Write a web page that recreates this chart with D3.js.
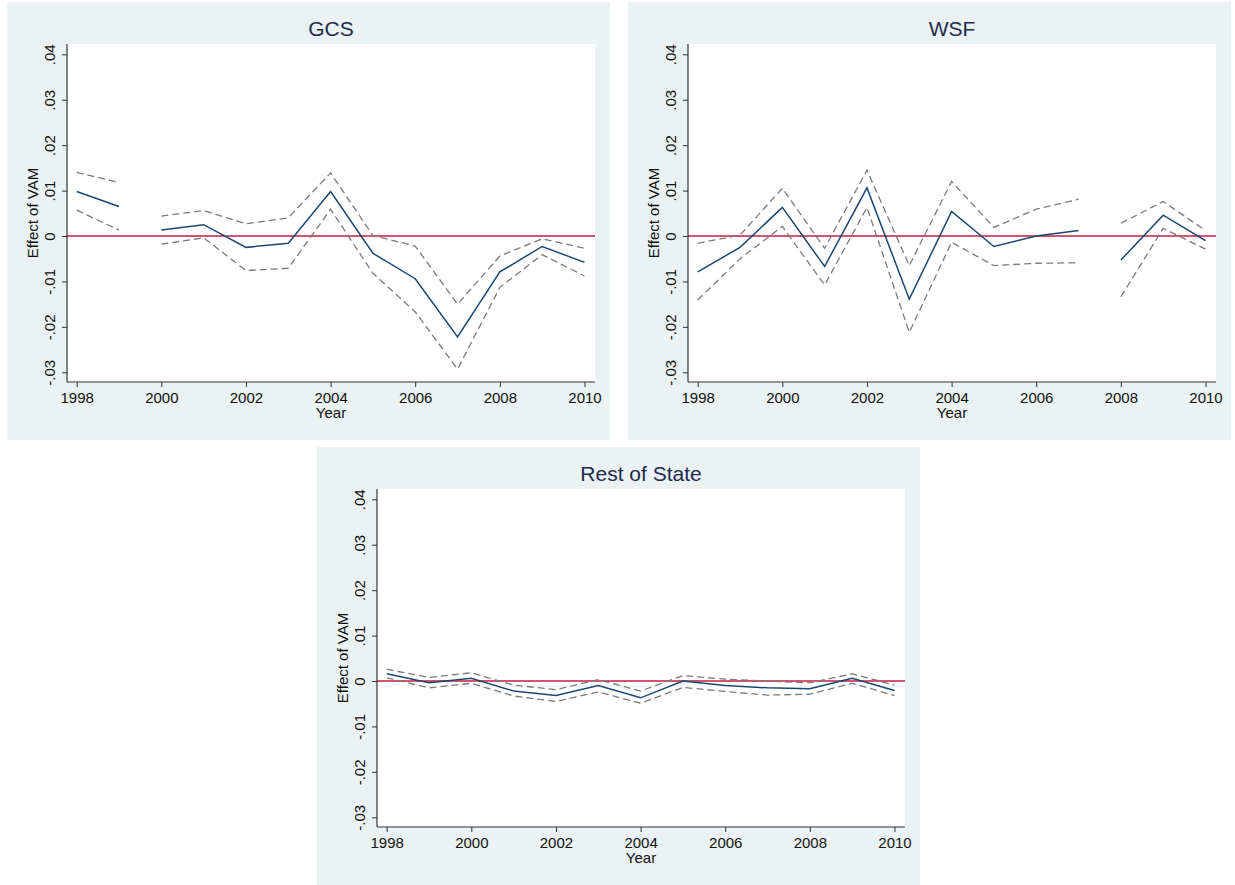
<!DOCTYPE html>
<html>
<head>
<meta charset="utf-8">
<script src="https://cdn.jsdelivr.net/npm/d3@7"></script>
<style>
  body { margin: 0; background: #fff; }
  svg { display: block; font-family: "Liberation Sans", Arial, sans-serif; }
</style>
</head>
<body>
<svg width="1235" height="885"></svg>
<script>
// data
const years = [1998, 1999, 2000, 2001, 2002, 2003, 2004, 2005, 2006, 2007, 2008, 2009, 2010];
const yTicks = [-0.03, -0.02, -0.01, 0, 0.01, 0.02, 0.03, 0.04];
const xTicks = [1998, 2000, 2002, 2004, 2006, 2008, 2010];

const gcsEst   = [0.0098, 0.0065, 0.0013, 0.0025, -0.0025, -0.0016, 0.0098, -0.0038, -0.0094, -0.0222, -0.0079, -0.0023, -0.0058];
const gcsUpper = [0.0140, 0.0118, 0.0044, 0.0056, 0.0027, 0.0040, 0.0139, 0.0001, -0.0022, -0.0150, -0.0044, -0.0006, -0.0027];
const gcsLower = [0.0057, 0.0013, -0.0018, -0.0004, -0.0076, -0.0071, 0.0059, -0.0082, -0.0167, -0.0293, -0.0113, -0.0041, -0.0088];
const gcsBreaks = [1999]; // line is broken after these years

const wsfEst   = [-0.0079, -0.0025, 0.0063, -0.0067, 0.0106, -0.0139, 0.0054, -0.0023, 0.0000, 0.0012, -0.0053, 0.0046, -0.0010];
const wsfUpper = [-0.0016, 0.0002, 0.0105, -0.0027, 0.0145, -0.0065, 0.0120, 0.0019, 0.0059, 0.0081, 0.0028, 0.0076, 0.0012];
const wsfLower = [-0.0141, -0.0050, 0.0021, -0.0108, 0.0063, -0.0212, -0.0014, -0.0065, -0.0060, -0.0059, -0.0134, 0.0017, -0.0029];
const wsfBreaks = [2007];

const restEst   = [0.0016, -0.0004, 0.0006, -0.0022, -0.0032, -0.0010, -0.0037, 0.0000, -0.0010, -0.0015, -0.0017, 0.0006, -0.0021];
const restUpper = [0.0026, 0.0008, 0.0018, -0.0009, -0.0019, 0.0003, -0.0022, 0.0012, 0.0004, 0.0000, -0.0004, 0.0016, -0.0009];
const restLower = [0.0007, -0.0015, -0.0005, -0.0033, -0.0045, -0.0024, -0.0049, -0.0014, -0.0023, -0.0031, -0.0029, -0.0005, -0.0032];
const restBreaks = [];

const panels = [
  { title: 'GCS', est: gcsEst, upper: gcsUpper, lower: gcsLower, breaks: gcsBreaks, x: 7, y: 2 },
  { title: 'WSF', est: wsfEst, upper: wsfUpper, lower: wsfLower, breaks: wsfBreaks, x: 628, y: 2 },
  { title: 'Rest of State', est: restEst, upper: restUpper, lower: restLower, breaks: restBreaks, x: 317, y: 447 }
];

const svg = d3.select('svg');
const panelW = 603, panelH = 438;
const plot = { left: 60, right: 588, top: 42, bottom: 380 };

// Stata-style tick labels: ".01", "-.02", "0"
const fmtY = d => d === 0 ? '0' : (d < 0 ? '-' : '') + Math.abs(d).toFixed(2).replace(/^0/, '');

// split a series into segments at the break years
function segments(vals, breaks) {
  const segs = [];
  let cur = [];
  years.forEach((yr, i) => {
    cur.push({ year: yr, v: vals[i] });
    if (breaks.includes(yr)) { segs.push(cur); cur = []; }
  });
  if (cur.length) segs.push(cur);
  return segs;
}

function drawPanel(p) {
  const g = svg.append('g').attr('transform', `translate(${p.x},${p.y})`);

  g.append('rect').attr('width', panelW).attr('height', panelH).attr('fill', '#eaf2f3');
  g.append('rect')
    .attr('x', plot.left).attr('y', plot.top)
    .attr('width', plot.right - plot.left).attr('height', plot.bottom - plot.top)
    .attr('fill', '#fff');

  const x = d3.scaleLinear().domain([1998, 2010]).range([plot.left + 9.7, plot.right - 10.5]);
  const y = d3.scaleLinear().domain([-0.03, 0.04]).range([plot.bottom - 9.7, plot.top + 10.3]);

  const line = d3.line().x(d => x(d.year)).y(d => y(d.v));

  // zero reference line
  g.append('line')
    .attr('x1', plot.left).attr('x2', plot.right)
    .attr('y1', y(0)).attr('y2', y(0))
    .attr('stroke', '#d4536e').attr('stroke-width', 2);

  [p.upper, p.lower].forEach(vals => {
    segments(vals, p.breaks).forEach(seg => {
      g.append('path').datum(seg).attr('d', line)
        .attr('fill', 'none').attr('stroke', '#7a7a7a')
        .attr('stroke-width', 1.3).attr('stroke-dasharray', '7,4');
    });
  });
  segments(p.est, p.breaks).forEach(seg => {
    g.append('path').datum(seg).attr('d', line)
      .attr('fill', 'none').attr('stroke', '#1a476f').attr('stroke-width', 1.5);
  });

  // y axis with rotated tick labels
  const yAxis = g.append('g').attr('transform', `translate(${plot.left},0)`)
    .call(d3.axisLeft(y).tickValues(yTicks).tickSize(5).tickSizeOuter(0).tickFormat(fmtY))
    .attr('font-family', null).attr('font-size', 15);
  yAxis.select('.domain').attr('d', `M0,${plot.top}V${plot.bottom}`).attr('stroke', '#333').attr('stroke-width', 1.2);
  yAxis.selectAll('.tick line').attr('stroke', '#333');
  yAxis.selectAll('.tick text')
    .attr('transform', 'rotate(-90)')
    .attr('x', 0).attr('y', -12).attr('dy', 0)
    .attr('text-anchor', 'middle')
    .attr('fill', '#111');

  // x axis
  const xAxis = g.append('g').attr('transform', `translate(0,${plot.bottom})`)
    .call(d3.axisBottom(x).tickValues(xTicks).tickSize(5).tickSizeOuter(0).tickFormat(d3.format('d')))
    .attr('font-family', null).attr('font-size', 15);
  xAxis.select('.domain').attr('d', `M${plot.left},0H${plot.right}`).attr('stroke', '#333').attr('stroke-width', 1.2);
  xAxis.selectAll('.tick line').attr('stroke', '#333');
  xAxis.selectAll('.tick text').attr('fill', '#111').attr('y', 10);

  g.append('text')
    .attr('x', (plot.left + plot.right) / 2).attr('y', plot.bottom + 36)
    .attr('text-anchor', 'middle').attr('font-size', 15).attr('fill', '#111')
    .text('Year');

  g.append('text')
    .attr('transform', `translate(${plot.left - 29},${(plot.top + plot.bottom) / 2}) rotate(-90)`)
    .attr('text-anchor', 'middle').attr('font-size', 15).attr('fill', '#111')
    .text('Effect of VAM');

  g.append('text')
    .attr('x', (plot.left + plot.right) / 2).attr('y', 34)
    .attr('text-anchor', 'middle').attr('font-size', 21).attr('fill', '#1c2b4f')
    .text(p.title);
}

panels.forEach(drawPanel);
</script>
</body>
</html>
